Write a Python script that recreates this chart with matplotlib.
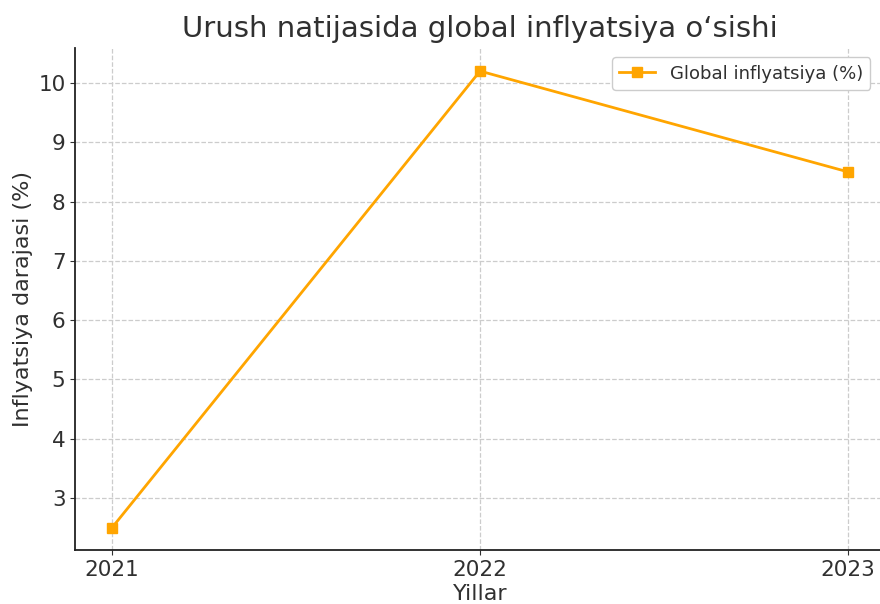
import matplotlib
matplotlib.use("Agg")
import matplotlib.pyplot as plt

years = [2021, 2022, 2023]
inflation = [2.5, 10.2, 8.5]
title = "Urush natijasida global inflyatsiya o‘sishi"
xlabel = "Yillar"
ylabel = "Inflyatsiya darajasi (%)"
series_label = "Global inflyatsiya (%)"

plt.rcParams['font.family'] = ['DejaVu Sans']
txt = '#303030'
fig = plt.figure(figsize=(8.8, 6.04), dpi=100)
ax = fig.add_axes([0.0855, 0.0886, 0.920, 0.8315])
ax.plot(years, inflation, marker='s', color='#FFA500', linewidth=2, markersize=7, label=series_label)
ax.set_title(title, fontsize=21, color=txt, pad=8)
ax.set_xlabel(xlabel, fontsize=16, color=txt, labelpad=3)
ax.set_ylabel(ylabel, fontsize=16, color=txt)
ax.set_xticks(years)
ax.tick_params(labelsize=15.5, colors=txt)
ax.grid(True, linestyle='--', color='#cccccc', linewidth=0.9)
for s in ['top', 'right']:
    ax.spines[s].set_visible(False)
for s in ['left', 'bottom']:
    ax.spines[s].set_linewidth(1.3)
    ax.spines[s].set_color('#222222')
leg = ax.legend(fontsize=13, loc='upper right', framealpha=1, bbox_to_anchor=(0.993, 1.0))
for t in leg.get_texts():
    t.set_color(txt)
fig.savefig('out.png', dpi=100)
